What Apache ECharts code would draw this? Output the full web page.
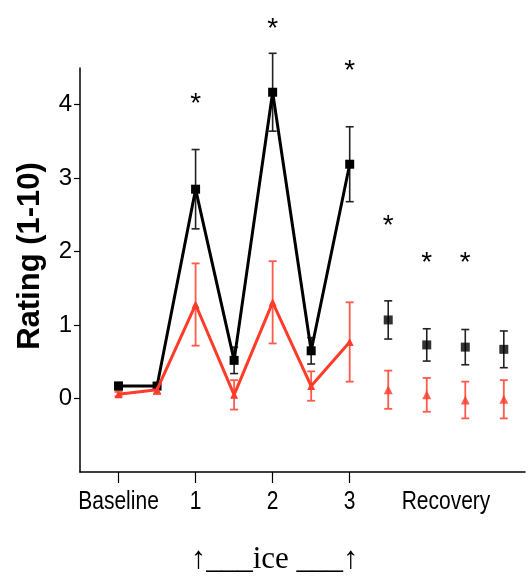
<!DOCTYPE html>
<html>
<head>
<meta charset="utf-8">
<script src="https://cdn.jsdelivr.net/npm/echarts@6/dist/echarts.min.js"></script>
<style>
  html, body { margin: 0; padding: 0; background: #fff; }
  #chart { width: 528px; height: 578px; }
</style>
</head>
<body>
<div id="chart"></div>
<script>
// time points: 0-1 baseline, 2-6 ice period, 7-10 recovery
const timePoints = [0, 1, 2, 3, 4, 5, 6, 7, 8, 9, 10];
const blackMean = [0.17, 0.17, 2.85, 0.52, 4.17, 0.65, 3.19, 1.07, 0.73, 0.70, 0.67];
const blackErr  = [0.05, 0.04, 0.54, 0.18, 0.53, 0.18, 0.51, 0.26, 0.22, 0.24, 0.25];
const redMean = [0.06, 0.12, 1.28, 0.05, 1.31, 0.17, 0.77, 0.12, 0.05, -0.02, -0.01];
const redErr  = [0.03, 0.06, 0.56, 0.20, 0.56, 0.20, 0.54, 0.26, 0.23, 0.25, 0.26];
const starPoints  = [2, 4, 6, 7, 8, 9];
const starHeights = [4.08, 5.09, 4.52, 2.41, 1.91, 1.91];
const xTickValues  = [0, 2, 4, 6];
const xLabelValues = [0, 2, 4, 6, 8.5];
const xLabelText   = ['Baseline', '1', '2', '3', 'Recovery'];
const yTickValues  = [0, 1, 2, 3, 4];
const lastConnected = 6;

const BLACK = '#000000';
const RED = '#ff3b2a';
const sans = "'Liberation Sans', Arial, sans-serif";

let ec = echarts.init(document.getElementById('chart'));

// error bars drawn as custom series
function errorBars(color, width, mean, err) {
  return {
    type: 'custom',
    clip: false,
    silent: true,
    z: 3,
    data: timePoints.map((t, i) => [t, mean[i] - err[i], mean[i] + err[i]]),
    renderItem(params, api) {
      let lo = api.coord([api.value(0), api.value(1)]);
      let hi = api.coord([api.value(0), api.value(2)]);
      let w = 4;
      let st = { stroke: color, lineWidth: width };
      return {
        type: 'group',
        children: [
          { type: 'line', shape: { x1: lo[0], y1: lo[1], x2: hi[0], y2: hi[1] }, style: st },
          { type: 'line', shape: { x1: lo[0] - w, y1: lo[1], x2: lo[0] + w, y2: lo[1] }, style: st },
          { type: 'line', shape: { x1: hi[0] - w, y1: hi[1], x2: hi[0] + w, y2: hi[1] }, style: st }
        ]
      };
    }
  };
}

function pairs(mean, from, to) {
  let out = [];
  for (let i = from; i <= to; i++) out.push([timePoints[i], mean[i]]);
  return out;
}

let option = {
  animation: false,
  backgroundColor: '#fff',
  grid: { left: 80, right: 3, top: 68, bottom: 106 },
  xAxis: {
    type: 'value',
    min: -1,
    max: 10.55,
    splitLine: { show: false },
    axisLine: { onZero: false, lineStyle: { color: BLACK, width: 1.5 } },
    axisTick: { customValues: xTickValues, length: 11, lineStyle: { color: BLACK, width: 1.2 } },
    axisLabel: { show: false }
  },
  yAxis: {
    type: 'value',
    min: -1,
    max: 4.5,
    splitLine: { show: false },
    axisLine: { show: true, onZero: false, lineStyle: { color: BLACK, width: 1.5 } },
    axisTick: { show: true, customValues: yTickValues, length: 6, lineStyle: { color: BLACK, width: 1.2 } },
    axisLabel: {
      customValues: yTickValues,
      margin: 8,
      color: BLACK,
      fontSize: 24,
      fontFamily: sans
    }
  },
  series: [
    errorBars('#222', 1.6, blackMean, blackErr),
    {
      type: 'line',
      data: pairs(blackMean, 0, lastConnected),
      symbol: 'rect',
      symbolSize: 9,
      lineStyle: { color: BLACK, width: 3 },
      itemStyle: { color: BLACK },
      z: 4
    },
    {
      type: 'scatter',
      data: pairs(blackMean, lastConnected + 1, timePoints.length - 1),
      symbol: 'rect',
      symbolSize: 9,
      itemStyle: { color: BLACK },
      z: 4
    },
    errorBars('#ff5a4a', 1.8, redMean, redErr),
    {
      type: 'line',
      data: pairs(redMean, 0, lastConnected),
      symbol: 'triangle',
      symbolSize: 8,
      lineStyle: { color: RED, width: 3 },
      itemStyle: { color: RED },
      z: 5
    },
    {
      type: 'scatter',
      data: pairs(redMean, lastConnected + 1, timePoints.length - 1),
      symbol: 'triangle',
      symbolSize: 9,
      itemStyle: { color: RED },
      z: 5
    },
    // significance stars
    {
      type: 'custom',
      clip: false,
      silent: true,
      data: starPoints.map((t, i) => [t, starHeights[i]]),
      renderItem(params, api) {
        let p = api.coord([api.value(0), api.value(1)]);
        return {
          type: 'text',
          x: p[0],
          y: p[1] + 5,
          style: {
            text: '*',
            fill: BLACK,
            font: '28px ' + sans,
            align: 'center',
            verticalAlign: 'middle'
          }
        };
      }
    },
    // x tick labels, squeezed horizontally like the condensed original font
    {
      type: 'custom',
      clip: false,
      silent: true,
      data: xLabelValues.map((v, i) => [v, -1, i]),
      renderItem(params, api) {
        let p = api.coord([api.value(0), api.value(1)]);
        return {
          type: 'text',
          x: p[0],
          y: p[1] + 18,
          scaleX: 0.84,
          style: {
            text: xLabelText[api.value(2)],
            fill: BLACK,
            font: '25px ' + sans,
            align: 'center',
            verticalAlign: 'top'
          }
        };
      }
    }
  ]
};

ec.setOption(option);

// y axis title and the ice annotation under the x axis
let icePos = ec.convertToPixel({ gridIndex: 0 }, [4, -1]);
ec.setOption({
  graphic: [
    {
      type: 'text',
      x: 30,
      y: 256,
      rotation: Math.PI / 2,
      style: {
        text: 'Rating (1-10)',
        fill: BLACK,
        font: 'bold 31px ' + sans,
        align: 'center',
        verticalAlign: 'middle'
      }
    },
    {
      type: 'text',
      x: icePos[0] + 2,
      y: 575,
      style: {
        text: '\u2191___ice ___\u2191',
        fill: BLACK,
        font: "31px 'Liberation Serif', 'DejaVu Serif', serif",
        align: 'center',
        verticalAlign: 'bottom'
      }
    }
  ]
});
</script>
</body>
</html>
